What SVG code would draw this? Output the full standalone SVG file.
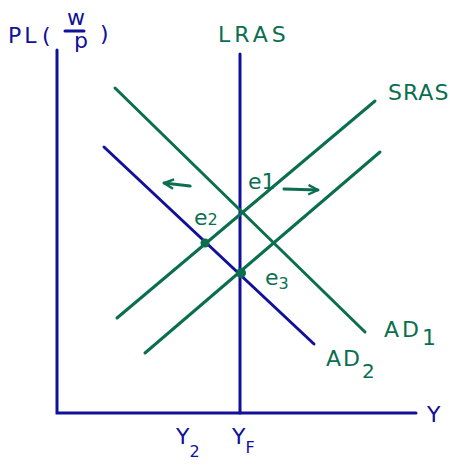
<svg xmlns="http://www.w3.org/2000/svg" width="450" height="466" viewBox="0 0 450 466">
<defs>
<style>
.blue{stroke:#10109a;fill:none;stroke-width:3;stroke-linecap:round}
.green{stroke:#0b6e4f;fill:none;stroke-width:3;stroke-linecap:round}
.tb{fill:#10109a;font-family:"DejaVu Sans",sans-serif;font-size:22px}
.tg{fill:#0b6e4f;font-family:"DejaVu Sans",sans-serif;font-size:22px}
</style>
<marker id="chev" viewBox="0 0 10 10" refX="9" refY="5" markerWidth="4" markerHeight="4" orient="auto" markerUnits="strokeWidth">
<path d="M1,1 L9,5 L1,9" fill="none" stroke="#0b6e4f" stroke-width="2"/>
</marker>
</defs>
<rect width="450" height="466" fill="#fff"/>
<g id="connectors">
<path id="y-axis" class="blue" d="M57,50 V413 H416"/>
<path id="lras-line" class="blue" d="M240,54 V413"/>
<path id="ad2-line" class="blue" d="M104,147 L314,344"/>
<path id="sras1-line" class="green" d="M117,318 L375,101"/>
<path id="sras2-line" class="green" d="M145,353 L380,152"/>
<path id="ad1-line" class="green" d="M115,88 L365,332"/>
<path id="shift-left" class="green" d="M190,186 L164,183" marker-end="url(#chev)"/>
<path id="shift-right" class="green" d="M284,189 L318,190" marker-end="url(#chev)"/>
</g>
<g id="e2"><circle cx="205" cy="243" r="4.5" fill="#0b6e4f"/><text class="tg" x="194" y="225">e<tspan font-size="16">2</tspan></text></g>
<g id="e3"><circle cx="241" cy="273" r="5" fill="#0b6e4f"/><text class="tg" x="265" y="285">e<tspan font-size="16" dy="4">3</tspan></text></g>
<g id="e1"><text class="tg" x="248" y="189">e1</text></g>
<g id="pl-label">
<text class="tb" x="8" y="43" font-size="24" letter-spacing="3">PL</text>
<text class="tb" x="42" y="43" font-size="24">(</text>
<text class="tb" x="67" y="25" font-size="11">w</text>
<path class="blue" d="M65,31 H84" stroke-width="2.5"/>
<text class="tb" x="74" y="48" font-size="14">p</text>
<text class="tb" x="100" y="41" font-size="28">)</text>
</g>
<g id="lras"><text class="tg" x="218" y="42" letter-spacing="4">LRAS</text></g>
<g id="sras"><text class="tg" x="388" y="100" font-size="20" letter-spacing="1">SRAS</text></g>
<g id="ad1"><text class="tg" x="384" y="337" font-size="28" letter-spacing="3">AD<tspan font-size="22" dy="8">1</tspan></text></g>
<g id="ad2"><text class="tg" x="326" y="366" font-size="24" letter-spacing="2">AD<tspan font-size="20" dy="12">2</tspan></text></g>
<g id="y-label"><text class="tb" x="427" y="422">Y</text></g>
<g id="y2"><text class="tb" x="176" y="444">Y<tspan font-size="16" dy="13">2</tspan></text></g>
<g id="yf"><text class="tb" x="232" y="444" font-size="20">Y<tspan font-size="16" dy="9">F</tspan></text></g>
</svg>
